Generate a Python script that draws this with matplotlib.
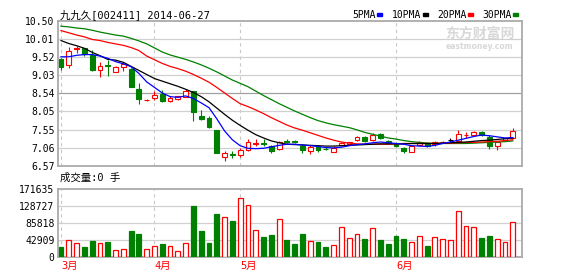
import numpy as np
import matplotlib
matplotlib.use("Agg")
from matplotlib import pyplot as plt
from matplotlib.patches import Rectangle

# K线数据 (2014-03 ~ 2014-06-27)
open_p = [9.47, 9.32, 9.73, 9.76, 9.58, 9.17, 9.31, 9.11, 9.26, 9.19,
          8.67, 8.35, 8.40, 8.52, 8.34, 8.38, 8.45, 8.60, 7.93, 7.88,
          7.54, 6.82, 6.89, 6.88, 7.01, 7.17, 7.19, 7.11, 7.04, 7.26,
          7.24, 7.12, 6.98, 7.10, 7.04, 6.96, 7.13, 7.17, 7.27, 7.35,
          7.27, 7.45, 7.25, 7.20, 7.06, 6.96, 7.13, 7.20, 7.17, 7.22,
          7.27, 7.25, 7.41, 7.42, 7.48, 7.36, 7.10, 7.27, 7.34]
high_p = [9.49, 9.80, 9.82, 9.77, 9.71, 9.38, 9.44, 9.29, 9.38, 9.23,
          8.83, 8.39, 8.61, 8.63, 8.46, 8.48, 8.67, 8.60, 8.08, 7.92,
          7.54, 6.97, 6.97, 7.06, 7.31, 7.31, 7.31, 7.14, 7.25, 7.31,
          7.27, 7.17, 7.15, 7.15, 7.08, 7.10, 7.23, 7.22, 7.37, 7.37,
          7.46, 7.46, 7.28, 7.22, 7.08, 7.12, 7.25, 7.22, 7.25, 7.26,
          7.32, 7.55, 7.48, 7.53, 7.51, 7.42, 7.25, 7.34, 7.61]
low_p = [9.17, 9.23, 9.62, 9.55, 9.14, 8.99, 9.02, 9.11, 9.15, 8.70,
         8.24, 8.32, 8.35, 8.31, 8.30, 8.36, 8.43, 7.79, 7.83, 7.60,
         6.93, 6.71, 6.79, 6.82, 6.98, 7.11, 7.12, 6.91, 7.01, 7.20,
         7.19, 6.91, 6.89, 6.95, 7.00, 6.94, 7.10, 7.16, 7.24, 7.23,
         7.26, 7.29, 7.19, 7.08, 6.91, 6.94, 7.10, 7.08, 7.12, 7.20,
         7.20, 7.23, 7.34, 7.41, 7.39, 7.04, 7.00, 7.25, 7.32]
close_p = [9.26, 9.69, 9.78, 9.61, 9.17, 9.29, 9.28, 9.24, 9.33, 8.70,
           8.38, 8.36, 8.49, 8.34, 8.42, 8.48, 8.61, 8.04, 7.85, 7.63,
           6.93, 6.93, 6.87, 7.01, 7.23, 7.19, 7.16, 6.97, 7.22, 7.23,
           7.22, 7.00, 7.08, 7.00, 7.03, 7.07, 7.20, 7.21, 7.35, 7.25,
           7.41, 7.32, 7.20, 7.10, 6.98, 7.10, 7.22, 7.10, 7.23, 7.23,
           7.27, 7.44, 7.42, 7.48, 7.42, 7.10, 7.22, 7.32, 7.51]

ma5 = [9.53, 9.53, 9.57, 9.59, 9.59, 9.55, 9.49, 9.40, 9.34, 9.26,
       9.08, 8.85, 8.70, 8.55, 8.45, 8.43, 8.47, 8.40, 8.28, 8.15,
       7.85, 7.52, 7.28, 7.12, 7.05, 7.04, 7.05, 7.09, 7.13, 7.16,
       7.16, 7.14, 7.12, 7.10, 7.07, 7.06, 7.08, 7.12, 7.15, 7.17,
       7.20, 7.22, 7.20, 7.18, 7.16, 7.12, 7.11, 7.10, 7.13, 7.18,
       7.22, 7.27, 7.32, 7.37, 7.41, 7.39, 7.36, 7.33, 7.34]
ma10 = [9.97, 9.89, 9.83, 9.76, 9.65, 9.56, 9.46, 9.44, 9.38, 9.27,
        9.16, 9.05, 8.94, 8.87, 8.80, 8.73, 8.65, 8.56, 8.45, 8.31,
        8.14, 7.97, 7.81, 7.67, 7.54, 7.42, 7.33, 7.25, 7.20, 7.16,
        7.15, 7.14, 7.13, 7.12, 7.11, 7.11, 7.12, 7.13, 7.14, 7.15,
        7.16, 7.17, 7.17, 7.17, 7.17, 7.18, 7.18, 7.18, 7.18, 7.19,
        7.20, 7.21, 7.22, 7.24, 7.26, 7.27, 7.29, 7.31, 7.33]
ma20 = [10.24, 10.18, 10.12, 10.07, 10.00, 9.97, 9.92, 9.88, 9.84, 9.78,
        9.70, 9.55, 9.45, 9.35, 9.27, 9.21, 9.14, 9.05, 8.95, 8.84,
        8.70, 8.55, 8.40, 8.26, 8.18, 8.09, 7.99, 7.88, 7.78, 7.68,
        7.60, 7.54, 7.47, 7.40, 7.33, 7.27, 7.22, 7.19, 7.17, 7.16,
        7.16, 7.16, 7.16, 7.17, 7.18, 7.18, 7.18, 7.18, 7.18, 7.19,
        7.19, 7.20, 7.21, 7.21, 7.22, 7.23, 7.24, 7.26, 7.28]
ma30 = [10.36, 10.34, 10.31, 10.29, 10.25, 10.20, 10.16, 10.12, 10.09, 10.03,
        9.96, 9.88, 9.77, 9.66, 9.58, 9.52, 9.46, 9.39, 9.31, 9.22,
        9.12, 9.01, 8.90, 8.81, 8.72, 8.60, 8.48, 8.37, 8.26, 8.16,
        8.06, 7.97, 7.88, 7.80, 7.74, 7.69, 7.65, 7.61, 7.55, 7.48,
        7.43, 7.38, 7.33, 7.30, 7.26, 7.23, 7.21, 7.19, 7.18, 7.18,
        7.18, 7.18, 7.18, 7.19, 7.20, 7.21, 7.22, 7.23, 7.25]

volume = [25100, 42700, 35200, 26000, 41000, 35200, 38500, 17600, 20000, 66000,
          58600, 20000, 27600, 33500, 27600, 15000, 35200, 129000, 66000, 36000,
          108800, 100500, 91300, 148000, 130600, 67800, 51000, 56000, 95400, 43500,
          33500, 58600, 41000, 36800, 26000, 30100, 75400, 47700, 58600, 46000,
          72800, 43500, 33500, 53600, 46000, 38500, 52700, 28500, 50200, 46000,
          42700, 115500, 77900, 75400, 48600, 53600, 45200, 38500, 87900]

price_ticks = [6.57, 7.06, 7.55, 8.05, 8.54, 9.03, 9.52, 10.01, 10.50]
price_labels = ["6.57", "7.06", "7.55", "8.05", "8.54", "9.03", "9.52", "10.01", "10.50"]
vol_ticks = [0, 42909, 85818, 128727, 171635]
vol_labels = ["0", "42909", "85818", "128727", "171635"]
months = ["3月", "4月", "5月", "6月"]
month_idx = [0, 12, 23, 43]

RED = "#ff0000"
GREEN = "#008000"
GRID = "#d0d0d0"
SPINE = "#aaaaaa"
W, H = 578, 276

plt.rcParams['font.family'] = ['DejaVu Sans Mono', 'Noto Sans CJK SC']

fig = plt.figure(figsize=(W / 100, H / 100), dpi=100)
ax1 = fig.add_axes([58 / W, 1 - 166 / H, 464 / W, 145 / H])
ax2 = fig.add_axes([58 / W, 1 - 257 / H, 464 / W, 68 / H])

x = np.arange(len(close_p))
o = np.array(open_p)
c = np.array(close_p)
cols = [RED if cc > oo else (GREEN if cc < oo else "black") for oo, cc in zip(o, c)]
faces = ["white" if cc > oo else col for oo, cc, col in zip(o, c, cols)]
vcols = [RED if cc >= oo else GREEN for oo, cc in zip(o, c)]
vfaces = ["white" if cc >= oo else GREEN for oo, cc in zip(o, c)]

for ax in (ax1, ax2):
    for s in ax.spines.values():
        s.set_color(SPINE)
        s.set_linewidth(1.3)
    ax.set_xlim(-0.385, 59.18)
    ax.tick_params(length=0, pad=2.5, labelsize=7, colors="black")
    ax.set_xticks([])
    for mi in month_idx:
        ax.axvline(mi, color="#c8c8c8", lw=0.8, ls=(0, (3, 3)), zorder=0)

# 价格图
ax1.set_ylim(6.57, 10.50)
ax1.set_yticks(price_ticks)
ax1.set_yticklabels(price_labels)
for t in price_ticks[1:-1]:
    ax1.axhline(t, color="#a0a0a0" if t == 8.54 else GRID, lw=0.9, zorder=0)

ax1.vlines(x, low_p, high_p, colors=cols, lw=0.8, zorder=2)
body_bot = np.minimum(o, c)
body_h = np.maximum(np.abs(c - o), 0.004)
ax1.bar(x, body_h, bottom=body_bot, width=0.62, color=faces, edgecolor=cols,
        linewidth=0.8, zorder=3)

ax1.plot(x, ma30, color=GREEN, lw=0.9, zorder=4)
ax1.plot(x, ma20, color=RED, lw=0.9, zorder=4)
ax1.plot(x, ma10, color="black", lw=0.9, zorder=4)
ax1.plot(x, ma5, color="#0000ff", lw=0.9, zorder=4)

# 成交量
ax2.set_ylim(0, 171635)
ax2.set_yticks(vol_ticks)
ax2.set_yticklabels(vol_labels)
for t in vol_ticks[1:-1]:
    ax2.axhline(t, color=GRID, lw=0.9, zorder=0)
ax2.bar(x, volume, width=0.62, color=vfaces, edgecolor=vcols, linewidth=0.9, zorder=3)

for m, mi in zip(months, month_idx):
    ax2.text(mi, -0.06, m, color=RED, fontsize=7.5, ha="left", va="top",
             transform=ax2.get_xaxis_transform())

# 标题和图例
fig.text(60 / W, 1 - 18 / H, "九九久[002411] 2014-06-27", fontsize=7.5, va="baseline")
fig.text(60 / W, 1 - 181 / H, "成交量:0 手", fontsize=7.5, va="baseline")

legend = [("5PMA", 352, "#0000ff"), ("10PMA", 392, "black"),
          ("20PMA", 437, RED), ("30PMA", 482, GREEN)]
for name, lx, col in legend:
    fig.text(lx / W, 1 - 18 / H, name, fontsize=7, va="baseline")
    mx = lx + len(name) * 5.9 + 1
    fig.add_artist(Rectangle((mx / W, 1 - 16 / H), 5 / W, 3 / H,
                             transform=fig.transFigure, color=col))

# 水印
fig.text(445 / W, 1 - 38 / H, "东方财富网", fontsize=10, color="#d8d8d8",
         fontweight="bold", family=["Noto Sans CJK SC"], va="baseline")
fig.text(446 / W, 1 - 49 / H, "eastmoney.com", fontsize=5.5, color="#d8d8d8",
         fontweight="bold", family=["DejaVu Sans"], va="baseline")

fig.savefig("out.png", dpi=100)
